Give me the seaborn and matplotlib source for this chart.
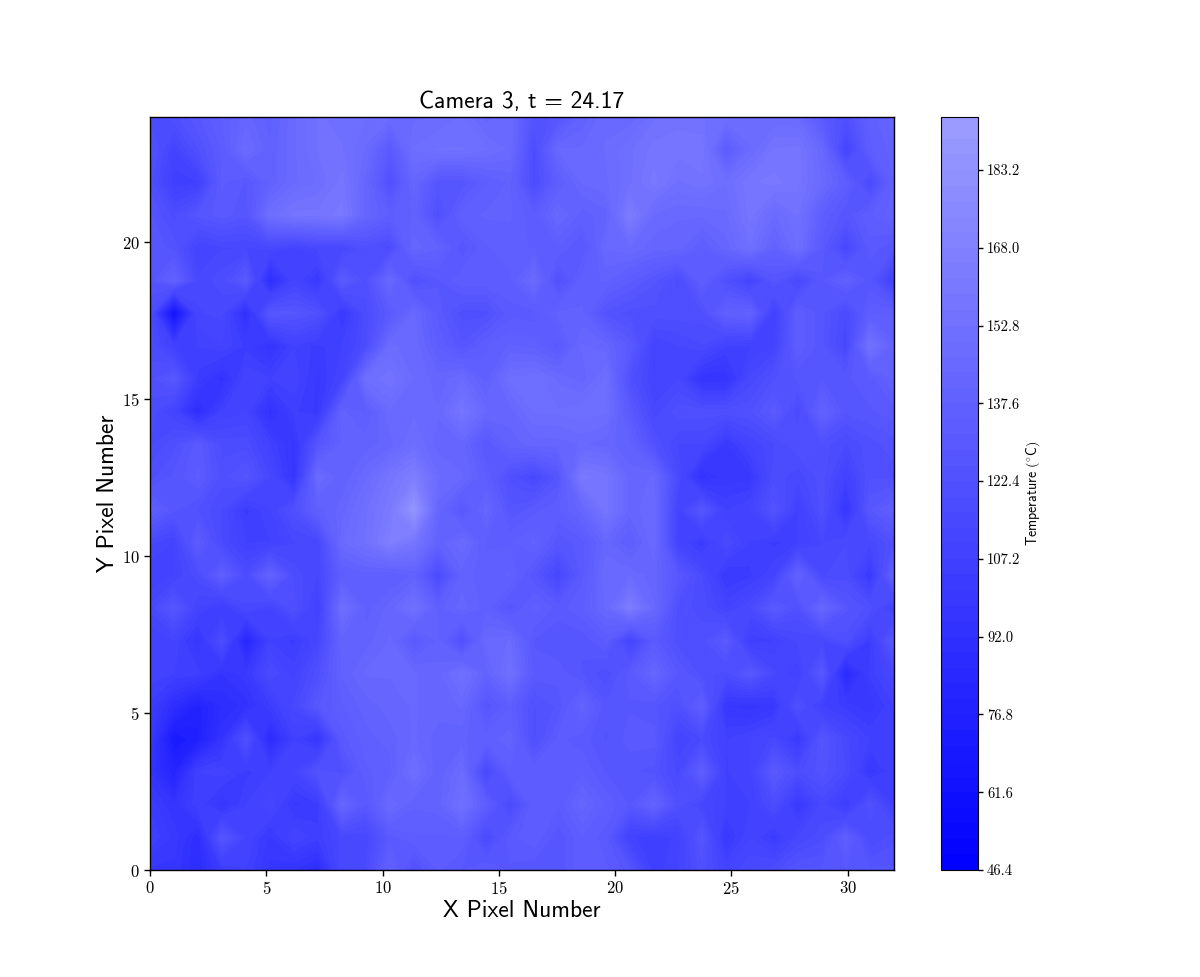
import seaborn as sns
import matplotlib
matplotlib.use("Agg")
import matplotlib.pyplot as plt
import numpy as np

# camera frame, 32 x 24 pixels, top row first (deg C)
temps = [
    [118,121,128,135,142,136,146,153,152,150,147,146,147,150,142,146,124,126,138,146,144,152,155,153,150,150,147,146,130,121,136,142],
    [124,110,122,132,147,138,146,153,153,146,130,150,153,153,150,146,118,144,144,147,152,157,157,158,132,146,156,157,144,110,134,139],
    [121,105,107,132,128,138,146,150,157,142,121,142,126,126,134,138,118,134,144,146,152,160,152,155,150,158,160,157,146,134,116,138],
    [126,118,126,130,126,150,157,157,160,142,134,138,121,136,138,138,132,144,136,139,163,146,144,144,146,157,146,153,134,126,134,139],
    [128,124,110,113,113,114,110,114,113,121,118,142,138,126,134,136,134,134,128,144,146,142,142,134,142,152,138,150,130,114,130,126],
    [126,138,114,118,130,89,110,100,130,121,144,121,128,134,134,134,146,122,136,138,132,126,118,134,121,110,126,114,128,136,126,107],
    [118,62,113,114,91,128,126,122,100,118,130,144,130,121,121,130,130,138,138,124,121,121,121,121,136,138,107,134,126,116,134,134],
    [118,107,107,110,103,95,107,103,107,118,147,146,134,126,134,138,136,130,144,142,130,110,113,116,107,107,110,134,126,114,153,138],
    [121,128,103,93,110,107,109,100,110,150,155,146,142,146,136,150,152,146,142,150,121,110,113,95,95,114,122,126,128,128,130,138],
    [118,110,89,107,110,93,105,100,138,134,146,146,144,157,144,142,150,150,152,150,130,114,121,121,121,122,130,116,138,126,128,130],
    [116,121,130,118,118,107,97,126,138,139,142,150,142,142,128,139,142,142,144,142,138,122,113,113,100,110,116,122,121,116,121,124],
    [121,126,132,121,126,113,97,146,138,146,157,165,147,144,134,121,114,126,160,157,142,144,116,93,99,100,118,114,121,107,122,121],
    [136,126,122,116,103,110,121,136,142,152,161,185,142,128,142,126,130,134,142,157,142,146,110,126,107,110,124,107,121,97,128,136],
    [114,110,132,116,107,107,113,114,146,153,165,157,138,146,134,134,138,126,130,142,134,146,110,102,116,107,103,107,113,116,114,122],
    [107,110,118,134,118,138,118,113,134,136,134,138,116,139,136,138,126,113,130,146,146,142,128,116,100,103,110,138,116,118,100,138],
    [114,126,110,103,116,110,121,107,150,136,142,152,136,142,136,126,136,130,134,144,163,144,121,118,110,116,130,122,142,126,121,107],
    [107,110,97,118,83,107,103,113,139,139,144,130,138,121,144,147,128,126,126,132,110,130,121,121,130,105,107,114,113,121,103,130],
    [109,107,105,95,100,116,109,121,138,144,144,144,142,152,139,152,130,130,125,120,130,142,128,121,118,128,114,107,128,85,105,114],
    [103,89,78,89,93,103,114,128,134,139,142,144,142,144,126,134,122,126,139,126,128,126,121,134,98,96,100,121,107,103,99,107],
    [100,70,76,95,121,87,107,97,130,136,139,144,139,138,136,139,121,132,130,125,130,130,110,116,107,110,114,100,126,114,107,107],
    [95,80,107,109,103,107,110,124,121,134,136,150,138,147,114,134,134,134,134,128,126,124,115,134,107,109,130,118,124,116,99,107],
    [103,95,107,97,107,113,100,103,142,128,146,138,139,152,134,116,134,132,142,134,128,139,121,113,107,107,118,100,114,103,122,107],
    [107,100,89,126,110,100,110,105,114,114,130,134,134,134,116,130,134,126,134,130,108,105,108,126,99,110,102,113,118,134,116,121],
    [97,97,89,103,107,97,95,89,116,116,138,121,132,128,132,128,126,126,134,132,126,105,110,121,110,116,118,126,126,128,126,126],
]

cbar_ticks = [46.4, 61.6, 76.8, 92.0, 107.2, 122.4, 137.6, 152.8, 168.0, 183.2]
x_ticks = [0, 5, 10, 15, 20, 25, 30]
y_ticks = [0, 5, 10, 15, 20]

sns.set_style("ticks")
plt.rcParams["font.family"] = ["cmr10", "DejaVu Sans"]
plt.rcParams["mathtext.fontset"] = "cm"
plt.rcParams["axes.formatter.use_mathtext"] = True
plt.rcParams["axes.unicode_minus"] = False
plt.rcParams["axes.edgecolor"] = "black"
plt.rcParams["axes.labelcolor"] = "black"
plt.rcParams["text.color"] = "black"
plt.rcParams["xtick.color"] = "black"
plt.rcParams["ytick.color"] = "black"

blues = sns.blend_palette(["#0000ff", "#9c9cff"], as_cmap=True)

values = np.array(temps, dtype=float)
xs = np.linspace(0, 32, values.shape[1])
ys = np.linspace(24, 0, values.shape[0])
levels = np.append(np.arange(46.4, 193.6, 3.04), 193.6)

fig = plt.figure(figsize=(12, 9.77), dpi=100)
ax = fig.add_axes([0.125, 0.1095, 0.62, 0.771])
cax = fig.add_axes([0.7842, 0.1095, 0.0308, 0.771])

cs = ax.contourf(xs, ys, values, levels=levels, cmap=blues)
ax.set_title("Camera 3, t = 24.17", fontsize=17, family="cmss10", pad=6)
ax.set_xlabel("X Pixel Number", fontsize=17, family="cmss10", labelpad=2)
ax.set_ylabel("Y Pixel Number", fontsize=17, family="cmss10", labelpad=2)
ax.set_xticks(x_ticks)
ax.set_yticks(y_ticks)
ax.tick_params(labelsize=12, length=4, width=1)
for s in ax.spines.values():
    s.set_visible(True)
    s.set_linewidth(1)

cbar = fig.colorbar(cs, cax=cax, ticks=cbar_ticks, format="%.1f", spacing="proportional")
cbar.ax.tick_params(labelsize=10.5, length=3.5, width=1, pad=3)
cbar.set_label(r"$\mathsf{Temperature\ (^{\circ}C)}$", fontsize=10, labelpad=3)
cbar.outline.set_edgecolor("black")

fig.savefig("out.png", dpi=100)
